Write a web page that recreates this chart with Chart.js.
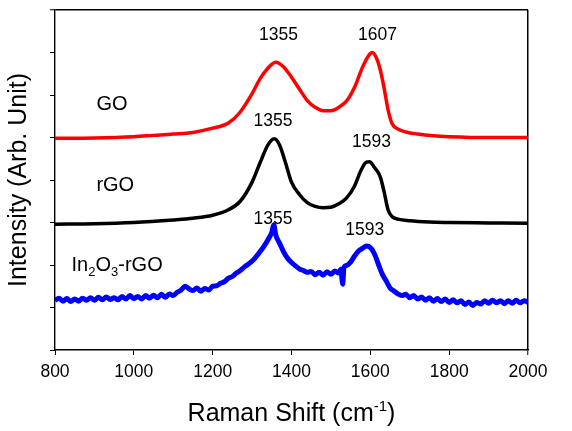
<!DOCTYPE html>
<html>
<head>
<meta charset="utf-8">
<script src="https://cdn.jsdelivr.net/npm/chart.js@4"></script>
<style>
  html, body { margin: 0; padding: 0; background: #fff; }
  #wrap { width: 572px; height: 431px; }
</style>
</head>
<body>
<div id="wrap"><canvas id="chart" width="572" height="431"></canvas></div>
<script>
// Raman spectra (offset intensity, arb. units)
const goX = [800, 900, 1000, 1050, 1100, 1150, 1200, 1240, 1270, 1300, 1320, 1340, 1360, 1380, 1400, 1420, 1440, 1460, 1480, 1500, 1520, 1540, 1560, 1580, 1595, 1605, 1615, 1625, 1635, 1645, 1655, 1670, 1690, 1720, 1760, 1800, 1900, 2000]
const goY = [4.98, 4.99, 5.02, 5.05, 5.08, 5.12, 5.22, 5.34, 5.6, 6.03, 6.38, 6.63, 6.77, 6.66, 6.42, 6.14, 5.87, 5.71, 5.63, 5.63, 5.71, 5.86, 6.18, 6.65, 6.92, 7.0, 6.88, 6.6, 6.16, 5.65, 5.33, 5.2, 5.13, 5.08, 5.04, 5.02, 5.0, 5.0]

const rgoX = [800, 900, 1000, 1100, 1150, 1200, 1240, 1270, 1300, 1320, 1340, 1356, 1370, 1385, 1400, 1420, 1440, 1460, 1480, 1500, 1520, 1540, 1560, 1575, 1590, 1598, 1610, 1625, 1635, 1645, 1655, 1670, 1700, 1750, 1800, 1900, 2000]
const rgoY = [2.96, 2.97, 3.0, 3.06, 3.1, 3.17, 3.3, 3.5, 3.95, 4.4, 4.82, 4.97, 4.82, 4.4, 3.95, 3.66, 3.47, 3.38, 3.35, 3.36, 3.44, 3.58, 3.86, 4.2, 4.42, 4.43, 4.3, 4.08, 3.72, 3.3, 3.14, 3.08, 3.04, 3.01, 3.0, 2.99, 2.98]

const inX = [800, 810, 820, 830, 840, 850, 860, 870, 880, 890, 900, 910, 920, 930, 940, 950, 960, 970, 980, 990,
  1000, 1010, 1020, 1030, 1040, 1050, 1060, 1070, 1080, 1090, 1100, 1110, 1120, 1130, 1140, 1150, 1160, 1170, 1180, 1190,
  1200, 1210, 1220, 1230, 1240, 1250, 1260, 1270, 1280, 1290, 1300, 1310, 1320, 1330, 1340, 1350, 1355, 1360, 1370, 1380, 1390,
  1400, 1410, 1420, 1430, 1440, 1450, 1460, 1470, 1480, 1490, 1500, 1510, 1520, 1525, 1530, 1533, 1540, 1550, 1560, 1570, 1580, 1590,
  1600, 1610, 1620, 1630, 1640, 1650, 1660, 1670, 1680, 1690, 1700, 1710, 1720, 1730, 1740, 1750, 1760, 1770, 1780, 1790,
  1800, 1810, 1820, 1830, 1840, 1850, 1860, 1870, 1880, 1890, 1900, 1910, 1920, 1930, 1940, 1950, 1960, 1970, 1980, 1990, 2000]
const inY = [1.17, 1.22, 1.15, 1.21, 1.14, 1.20, 1.15, 1.22, 1.17, 1.23, 1.17, 1.24, 1.18, 1.25, 1.19, 1.23, 1.18, 1.26, 1.20, 1.28,
  1.21, 1.26, 1.20, 1.28, 1.22, 1.29, 1.23, 1.31, 1.24, 1.32, 1.28, 1.36, 1.41, 1.50, 1.44, 1.40, 1.46, 1.38, 1.45, 1.41,
  1.50, 1.51, 1.57, 1.61, 1.69, 1.73, 1.81, 1.87, 1.95, 2.02, 2.09, 2.19, 2.31, 2.44, 2.59, 2.77, 2.95, 2.71, 2.51, 2.31, 2.16,
  2.06, 1.98, 1.91, 1.87, 1.83, 1.85, 1.77, 1.83, 1.76, 1.84, 1.78, 1.86, 1.81, 1.90, 1.55, 1.94, 1.99, 2.07, 2.21, 2.33, 2.39, 2.45,
  2.41, 2.27, 2.03, 1.79, 1.63, 1.46, 1.39, 1.32, 1.28, 1.31, 1.23, 1.28, 1.20, 1.25, 1.17, 1.23, 1.15, 1.21, 1.14, 1.20,
  1.12, 1.18, 1.11, 1.16, 1.07, 1.13, 1.05, 1.12, 1.08, 1.16, 1.10, 1.17, 1.11, 1.16, 1.09, 1.16, 1.10, 1.17, 1.11, 1.16, 1.12]

const xTicks = [800, 1000, 1200, 1400, 1600, 1800, 2000]
const xMax = 2000, yMax = 8

// peak annotations
const peakText = ['1355', '1607', '1355', '1593', '1355', '1593']
const peakX = [1367, 1618, 1353, 1603, 1353, 1586]
const peakY = [7.41, 7.41, 5.39, 4.9, 3.08, 2.82]

// series names, pieces with subscript flag
const nameParts = [
  [['GO', 0]],
  [['rGO', 0]],
  [['In', 0], ['2', 1], ['O', 0], ['3', 1], ['-rGO', 0]]
]
const nameX = [905, 905, 842]
const nameY = [5.78, 3.88, 1.98]

const FONT = '"Liberation Sans", Arial, sans-serif'

const pts = (xs, ys) => xs.map((x, i) => ({ x, y: ys[i] }))

const textPlugin = {
  id: 'texts',
  afterDraw(chart) {
    const ctx = chart.ctx
    const xs = chart.scales.x, ys = chart.scales.y
    const a = chart.chartArea
    ctx.save()
    ctx.fillStyle = '#000'
    ctx.textBaseline = 'middle'
    ctx.textAlign = 'center'
    ctx.font = '17.5px ' + FONT
    peakText.forEach((t, i) => {
      ctx.fillText(t, xs.getPixelForValue(peakX[i]), ys.getPixelForValue(peakY[i]))
    })

    ctx.textAlign = 'left'
    nameParts.forEach((parts, i) => {
      let px = xs.getPixelForValue(nameX[i])
      const py = ys.getPixelForValue(nameY[i])
      parts.forEach(([s, sub]) => {
        ctx.font = (sub ? '13px ' : '20px ') + FONT
        ctx.fillText(s, px, py + (sub ? 7 : 0))
        px += ctx.measureText(s).width
      })
    })

    // x axis title with superscript
    const main1 = 'Raman Shift (cm', sup = '-1', close = ')'
    ctx.textBaseline = 'alphabetic'
    ctx.font = '25px ' + FONT
    const w1 = ctx.measureText(main1).width
    const w3 = ctx.measureText(close).width
    ctx.font = '15px ' + FONT
    const w2 = ctx.measureText(sup).width
    let tx = (a.left + a.right) / 2 - (w1 + w2 + w3) / 2
    const ty = 421
    ctx.font = '25px ' + FONT
    ctx.fillText(main1, tx, ty)
    tx += w1
    ctx.font = '15px ' + FONT
    ctx.fillText(sup, tx, ty - 10)
    tx += w2
    ctx.font = '25px ' + FONT
    ctx.fillText(close, tx, ty)
    ctx.restore()
  }
}

// only the last grid line of each axis is shown, giving the top and right edges of the box
const edgeColor = last => c => (c.tick && c.tick.value === last) ? '#000' : 'rgba(0,0,0,0)'
const edgeWidth = last => c => (c.tick && c.tick.value === last) ? 1.5 : 1

new Chart(document.getElementById('chart').getContext('2d'), {
  type: 'scatter',
  data: {
    datasets: [
      { label: 'GO', data: pts(goX, goY), borderColor: '#ff0000', borderWidth: 3.5 },
      { label: 'rGO', data: pts(rgoX, rgoY), borderColor: '#000000', borderWidth: 3.5 },
      { label: 'In2O3-rGO', data: pts(inX, inY), borderColor: '#0000ff', borderWidth: 5 }
    ].map(d => ({ ...d, showLine: true, pointRadius: 0, fill: false, cubicInterpolationMode: 'monotone' }))
  },
  options: {
    responsive: false,
    animation: false,
    devicePixelRatio: 1,
    layout: { padding: { left: 0, right: 44, top: 10, bottom: 0 } },
    plugins: { legend: { display: false }, tooltip: { enabled: false } },
    scales: {
      x: {
        type: 'linear', min: 800, max: xMax,
        afterBuildTicks: s => { s.ticks = xTicks.map(v => ({ value: v })) },
        afterFit: s => { s.height = 81 },
        grid: { drawOnChartArea: true, drawTicks: true, tickLength: 5, color: edgeColor(xMax), lineWidth: edgeWidth(xMax), tickColor: '#000', tickWidth: 1 },
        border: { display: true, color: '#000', width: 1.4 },
        ticks: { color: '#000', font: { family: FONT, size: 17.5 }, padding: 7, maxRotation: 0, callback: v => String(v) }
      },
      y: {
        min: 0, max: yMax,
        ticks: { display: false, stepSize: 1 },
        afterFit: s => { s.width = 55 },
        grid: { drawOnChartArea: true, drawTicks: true, tickLength: 5, color: edgeColor(yMax), lineWidth: edgeWidth(yMax), tickColor: '#000', tickWidth: 1 },
        border: { display: true, color: '#000', width: 1.4 },
        title: { display: true, text: 'Intensity (Arb. Unit)', color: '#000', font: { family: FONT, size: 25 }, padding: { top: 4, bottom: 0 } }
      }
    }
  },
  plugins: [textPlugin]
})
</script>
</body>
</html>
